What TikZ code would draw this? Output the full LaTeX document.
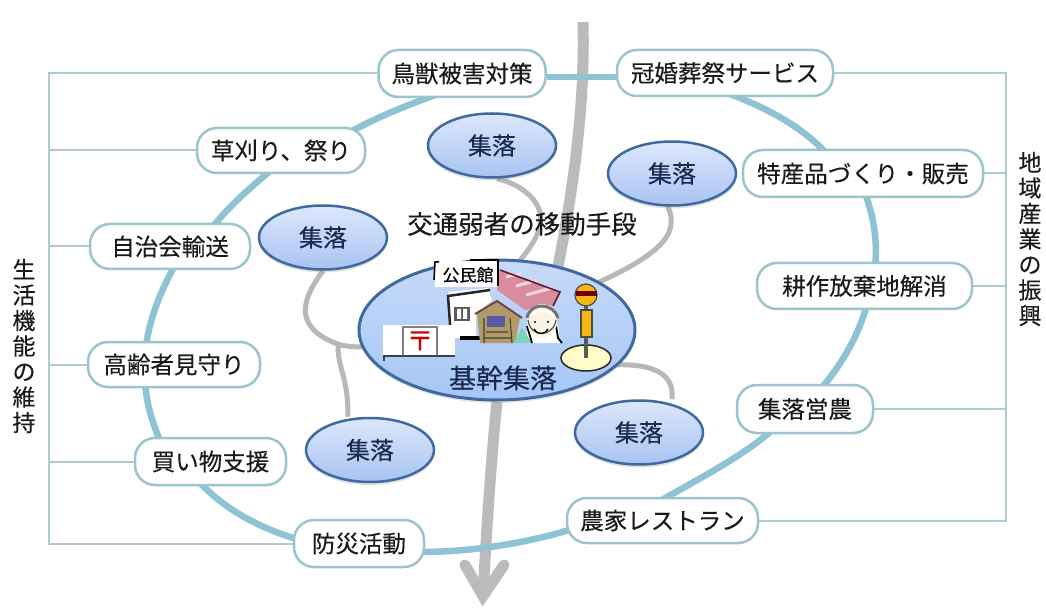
\documentclass[tikz,border=0pt]{standalone}
\usepackage{fontspec}
\setmainfont[FakeBold=0.25]{Noto Sans CJK JP}
\usetikzlibrary{shapes.geometric,shadows}
\pgfdeclarelayer{back}
\pgfsetlayers{back,main}
\definecolor{ringc}{HTML}{8EC3D3}
\definecolor{edgec}{HTML}{9CC4CC}
\definecolor{thinc}{HTML}{AECBD2}
\definecolor{grayc}{HTML}{BBBBBB}
\definecolor{linkc}{HTML}{B8B8B8}
\definecolor{satedge}{HTML}{3F6A9F}
\definecolor{sattop}{HTML}{DCE7FB}
\definecolor{satbot}{HTML}{A8C4F2}
\definecolor{hubtop}{HTML}{C6DAF9}
\definecolor{hubbot}{HTML}{A6C6F5}
\definecolor{ink}{HTML}{1A1A1A}
\definecolor{navy}{HTML}{1A2A50}
\definecolor{roofa}{HTML}{D98CA0}
\definecolor{roofb}{HTML}{F6D6DC}
\definecolor{roofe}{HTML}{5A2030}
\definecolor{porch}{HTML}{B09A6A}
\definecolor{face}{HTML}{FBF3E4}
\definecolor{signc}{HTML}{F5B810}
\tikzset{
  pill/.style={draw=edgec,line width=2.5pt,fill=white,rounded corners=20pt,inner sep=0pt,
    text=ink,font=\fontsize{23.5}{26}\selectfont},
  sat/.style={ellipse,draw=satedge,line width=2.5pt,top color=sattop,bottom color=satbot,
    minimum width=128pt,minimum height=64pt,inner sep=0pt,text=navy,
    font=\fontsize{24}{26}\selectfont,
    drop shadow={opacity=.25,shadow xshift=0pt,shadow yshift=-3pt}},
  ring/.style={draw=ringc,line width=6.5pt},
  thin/.style={draw=thinc,line width=2pt},
  link/.style={draw=linkc,line width=5pt},
  mainline/.style={draw=grayc,line width=11pt},
  side/.style={text=ink,align=center,inner sep=0pt,font=\fontsize{23}{25.5}\selectfont}
}
\begin{document}
\begin{tikzpicture}[x=1pt,y=-1pt]
\useasboundingbox (0,0) rectangle (1046,609);
% items
\node[pill,minimum width=167pt,minimum height=47pt] (tori) at (462,73.5) {鳥獣被害対策};
\node[pill,minimum width=216pt,minimum height=46pt] (kan) at (725,73) {冠婚葬祭サービス};
\node[pill,minimum width=168pt,minimum height=45pt] (kusa) at (281,150.5) {草刈り、祭り};
\node[pill,minimum width=160pt,minimum height=45pt] (ji) at (170,246.5) {自治会輸送};
\node[pill,minimum width=172pt,minimum height=45pt] (kou) at (174,364.5) {高齢者見守り};
\node[pill,minimum width=151pt,minimum height=47pt] (kai) at (210.5,461.5) {買い物支援};
\node[pill,minimum width=130pt,minimum height=47pt] (bou) at (359,543.5) {防災活動};
\node[pill,minimum width=191pt,minimum height=45pt] (nou) at (662.5,520.5) {農家レストラン};
\node[pill,minimum width=136pt,minimum height=48pt] (shu) at (805,409) {集落営農};
\node[pill,minimum width=215pt,minimum height=46pt] (kos) at (864.5,286) {耕作放棄地解消};
\node[pill,minimum width=240pt,minimum height=47pt] (tok) at (863,173.5) {特産品づくり・販売};
% villages
\node[sat] (s1) at (492,145.5) {集落};
\node[sat] (s2) at (672,173.5) {集落};
\node[sat] (s3) at (323,237.5) {集落};
\node[sat] (s4) at (370,450) {集落};
\node[sat] (s5) at (639,432.5) {集落};
\node[ellipse,draw=satedge,line width=3pt,top color=hubtop,bottom color=hubbot,
  minimum width=276pt,minimum height=140pt,inner sep=0pt,
  drop shadow={opacity=.2,shadow xshift=0pt,shadow yshift=-3pt}] (kikan) at (497,330) {};
\node[text=navy,inner sep=0pt,font=\fontsize{27}{29}\selectfont] (kikanL) at (503,378) {基幹集落};
\node[text=ink,inner sep=0pt,font=\fontsize{25.5}{28}\selectfont] (koutsu) at (522,224) {交通弱者の移動手段};
\node[side] (left) at (24,346) {生\\活\\機\\能\\の\\維\\持};
\node[side] (right) at (1030,239) {地\\域\\産\\業\\の\\振\\興};
% free ends
\coordinate (lb) at (49,0);
\coordinate (rb) at (1006,0);
\coordinate (top) at (583,22);
\coordinate (tip) at (483,596);
\coordinate (armL) at (465,565);
\coordinate (armR) at (504,565);
\coordinate (joint) at (338,346);
\begin{pgfonlayer}{back}
\fill[white] (0,0) rectangle (1046,609);
% main road
\draw[mainline] (top) .. controls (585,100) and (575,180) .. ([xshift=61pt,yshift=-8pt]kikan.north);
\draw[mainline] (kikan.south) .. controls (492,450) and (487,520) .. (tip);
\draw[mainline,line join=miter,line cap=round] (armL) -- (tip) -- (armR);
% links
\draw[link] ([xshift=5pt]s1.south) .. controls (525,185) and (545,205) .. (540,225)
  .. controls (537,240) and (528,250) .. ([xshift=20pt,yshift=-6pt]kikan.north);
\draw[link] ([xshift=-4pt]s2.south) .. controls (680,235) and (660,255) .. ([xshift=-8pt,yshift=-8pt]kikan.north east);
\draw[link] (s3.south) .. controls (305,295) and (290,325) .. (335,343)
  .. controls (345,347) and (355,347) .. ([yshift=-17pt,xshift=10pt]kikan.west);
\draw[link] (joint) .. controls (338,370) and (348,375) .. ([xshift=-22pt]s4.north);
\draw[link] ([xshift=-25pt,yshift=-35pt]kikan.east) .. controls (650,363) and (675,372) .. ([xshift=33pt]s5.north);
% ring
\draw[ring] ([yshift=-3.5pt]tori.east) -- ([yshift=-4pt]kan.west);
\draw[ring] ([xshift=-22pt,yshift=5pt]tori.south) .. controls (405,106) and (375,118) .. ([xshift=68pt,yshift=-6pt]kusa.north);
\draw[ring] ([xshift=-9pt,yshift=5pt]kusa.south) .. controls (250,188) and (230,205) .. ([xshift=42pt,yshift=-5pt]ji.north);
\draw[ring] ([xshift=5pt,yshift=5pt]ji.south) .. controls (160,292) and (150,318) .. ([xshift=-28pt,yshift=-5pt]kou.north);
\draw[ring] ([xshift=-29pt,yshift=5pt]kou.south) .. controls (147,405) and (152,422) .. ([xshift=-50pt,yshift=-5pt]kai.north);
\draw[ring] ([xshift=-12pt,yshift=5pt]kai.south) .. controls (225,510) and (260,528) .. ([xshift=5pt,yshift=4pt]bou.west);
\draw[ring] ([xshift=-5pt,yshift=-8.5pt]bou.east) .. controls (475,552) and (530,542) .. ([xshift=5pt,yshift=-9pt]nou.west);
\draw[ring] ([xshift=-2pt,yshift=-4pt]nou.north) .. controls (700,478) and (745,455) .. ([xshift=-32pt,yshift=5pt]shu.south);
\draw[ring] ([xshift=16pt,yshift=-5pt]shu.north) .. controls (845,360) and (858,335) .. ([xshift=2.5pt,yshift=5pt]kos.south);
\draw[ring] ([xshift=10.5pt,yshift=-5pt]kos.north) .. controls (878,240) and (873,215) .. ([xshift=2pt,yshift=5pt]tok.south);
\draw[ring] ([xshift=-36pt,yshift=-5pt]tok.north) .. controls (800,125) and (765,107) .. ([xshift=0pt,yshift=5pt]kan.south);
% brackets
\draw[thin] (tori.west) -- (tori.west -| lb) -- (bou.west -| lb) -- (bou.west);
\draw[thin] (kusa.west) -- (kusa.west -| lb);
\draw[thin] (ji.west) -- (ji.west -| lb);
\draw[thin] (kou.west) -- (kou.west -| lb);
\draw[thin] (kai.west) -- (kai.west -| lb);
\draw[thin] (kan.east) -- (kan.east -| rb) -- (nou.east -| rb) -- (nou.east);
\draw[thin] (tok.east) -- (tok.east -| rb);
\draw[thin] (kos.east) -- (kos.east -| rb);
\draw[thin] (shu.east) -- (shu.east -| rb);
\end{pgfonlayer}
% hall: roof
\fill[roofa] (500,270) -- (560,292) -- (553,305) -- (525,310) -- (497,290) -- cycle;
\draw[roofb,line width=3pt] (506,277) -- (522,273) (516,286) -- (538,280) (526,295) -- (552,288);
\draw[roofe,line width=1.6pt] (500,270) -- (560,292) -- (553,306);
% hall: building
\fill[white] (448,292) -- (488,288) -- (492,300) -- (476,315) -- (476,338) -- (449,338) -- cycle;
\draw[black!85,line width=2.5pt] (451,338) -- (448,296) -- (490,290);
\fill[black!65] (454,307) rectangle (470,321);
\fill[white] (457,309) rectangle (461,319) (463,309) rectangle (467,319);
\fill[black] (460,336) rectangle (482,340);
% hall: porch
\fill[porch] (477,313) -- (497,302) -- (520,318) -- (515,343) -- (480,343) -- cycle;
\fill[blue!30!gray] (487,316) rectangle (505,327);
\draw[roofe!70!porch,line width=2pt] (475,314) -- (497,301) -- (522,318);
\draw[black!60!porch,line width=1.1pt] (486,332) -- (508,332) (484,338) -- (512,338) (484,318) -- (484,343) (510,318) -- (512,343);
% person
\fill[white] (525,343) -- (528,325) -- (558,325) -- (560,343) -- cycle;
\fill[cyan!40!green!50!white] (513,343) -- (522,328) -- (532,343) -- cycle;
\draw[black,line width=1.8pt] (532,343) -- (527,326) (556,326) -- (558,338) -- (562,343);
\fill[face] (542,321) ellipse [x radius=15pt,y radius=17pt];
\draw[black!70,line width=1.1pt] (528,320) .. controls (530,338) and (553,338) .. (556,320);
\draw[black!55,line width=3pt] (527,318) .. controls (530,302) and (553,302) .. (558,318);
\draw[white,line width=2pt] (530,316) .. controls (535,309) and (548,309) .. (554,316);
\draw[black,line width=1.3pt] (534,329) .. controls (537,335) and (545,335) .. (548,329);
\fill[black] (535,322) circle (1.2pt) (548,322) circle (1.2pt);
% bus stop
\draw[black!85,line width=1.5pt,fill=yellow!22] (586,358) ellipse [x radius=25pt,y radius=13pt];
\draw[gray!70!black,line width=4.5pt] (586,305) -- (586,358);
\draw[black!70,line width=1.2pt,fill=signc] (581,310) rectangle (592,337);
\draw[black!70,line width=1.2pt,fill=signc] (586,295) circle (11pt);
\fill[red!45!black] (575.5,291.5) rectangle (596.5,296);
% post office
\fill[white] (383,325) rectangle (455,355);
\draw[gray,line width=1.3pt] (403,355) -- (403,327) -- (437,327) -- (437,355);
\draw[black!75,line width=1.8pt] (384,361) -- (384,356) -- (455,356);
\node[text=red!80!black,inner sep=0pt,font=\fontsize{27}{29}\selectfont] (post) at (420,341) {〒};
% hall label
\fill[white] (435,261) rectangle (498,287);
\draw[black,line width=1.5pt] (470,260) -- (498,260) -- (498,286);
\draw[black,line width=1.5pt] (439,262) -- (435,262) -- (434,280);
\node[text=black,inner sep=0pt,font=\fontsize{17}{19}\selectfont] (hall) at (468,275) {公民館};
\end{tikzpicture}
\end{document}
